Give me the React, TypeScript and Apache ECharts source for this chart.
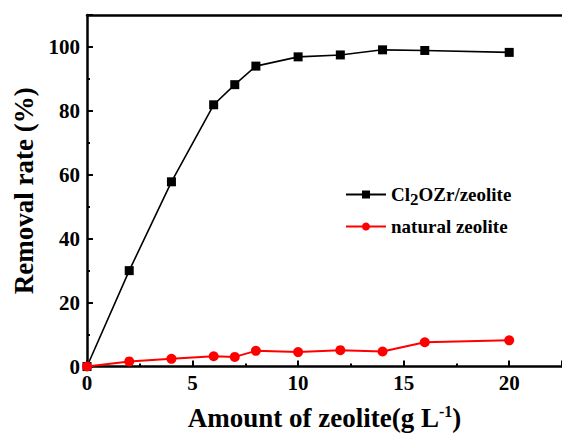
import React, { useEffect, useRef } from "react";
import * as echarts from "echarts";

// Zeolite dosage (g/L) and removal rates (%)
const dosage = [0, 2, 4, 6, 7, 8, 10, 12, 14, 16, 20];
const modifiedRate = [0, 30, 57.8, 81.9, 88.2, 94.0, 96.9, 97.5, 99.1, 98.9, 98.3];
const naturalRate = [0, 1.6, 2.4, 3.2, 3.0, 4.9, 4.5, 5.1, 4.7, 7.6, 8.2];

const seriesNames = ["Cl2OZr/zeolite", "natural zeolite"];

const FONT = "'Liberation Serif', 'Times New Roman', serif";

export default function App() {
  const ref = useRef<HTMLDivElement>(null);

  useEffect(() => {
    if (!ref.current) return;
    const chart = echarts.init(ref.current, null, { renderer: "svg" });
    const pairs = (ys: number[]) => dosage.map((x, i) => [x, ys[i]]);

    chart.setOption({
      animation: false,
      backgroundColor: "#fff",
      grid: { left: 87, top: 15, right: 0, bottom: 63 },
      legend: {
        orient: "vertical",
        left: 340,
        top: 180,
        itemWidth: 40,
        itemHeight: 10,
        itemGap: 9,
        data: seriesNames,
        formatter: (name: string) =>
          name === seriesNames[0] ? "{a|Cl}{s|2}{a|OZr/zeolite}" : "{a|" + name + "}",
        textStyle: {
          padding: [0, 0, 0, 0],
          rich: {
            a: { fontFamily: FONT, fontWeight: "bold", fontSize: 19, color: "#000" },
            s: {
              fontFamily: FONT,
              fontWeight: "bold",
              fontSize: 17,
              color: "#000",
              verticalAlign: "bottom",
              padding: [10, 0, 0, 0],
            },
          },
        },
      },
      xAxis: [
        {
          type: "value",
          min: 0,
          max: 22.5,
          interval: 5,
          name: "Amount of zeolite(g L{sup|-1})",
          nameLocation: "middle",
          nameGap: 37,
          nameTextStyle: {
            fontFamily: FONT,
            fontWeight: "bold",
            fontSize: 27,
            color: "#000",
            padding: [0, 0, 0, 0],
            rich: {
              sup: {
                fontFamily: FONT,
                fontWeight: "bold",
                fontSize: 16,
                color: "#000",
                verticalAlign: "top",
                padding: [0, 0, 12, 0],
              },
            },
          },
          axisLine: { lineStyle: { color: "#000", width: 2.5 } },
          axisTick: { inside: true, length: 6, lineStyle: { color: "#000", width: 2 } },
          minorTick: { show: true, splitNumber: 2, length: 3, lineStyle: { color: "#000", width: 2 } },
          axisLabel: {
            fontFamily: FONT,
            fontWeight: "bold",
            fontSize: 21,
            color: "#000",
            margin: 6,
            showMaxLabel: false,
          },
          splitLine: { show: false },
        },
        {
          type: "value",
          position: "top",
          min: 0,
          max: 22.5,
          axisLine: { show: true, lineStyle: { color: "#000", width: 2.5 } },
          axisTick: { show: false },
          axisLabel: { show: false },
          splitLine: { show: false },
        },
      ],
      yAxis: {
        type: "value",
        min: 0,
        max: 110,
        interval: 20,
        name: "Removal rate (%)",
        nameLocation: "middle",
        nameGap: 47,
        nameTextStyle: {
          fontFamily: FONT,
          fontWeight: "bold",
          fontSize: 27,
          color: "#000",
        },
        axisLine: { show: true, lineStyle: { color: "#000", width: 2.5 } },
        axisTick: { inside: true, length: 6, lineStyle: { color: "#000", width: 2 } },
        minorTick: { show: true, splitNumber: 2, length: 3, lineStyle: { color: "#000", width: 2 } },
        axisLabel: {
          fontFamily: FONT,
          fontWeight: "bold",
          fontSize: 21,
          color: "#000",
          margin: 7,
          showMaxLabel: false,
        },
        splitLine: { show: false },
      },
      series: [
        {
          name: seriesNames[0],
          type: "line",
          data: pairs(modifiedRate),
          symbol: "rect",
          symbolSize: 9,
          itemStyle: { color: "#000" },
          lineStyle: { color: "#000", width: 1.6 },
        },
        {
          name: seriesNames[1],
          type: "line",
          data: pairs(naturalRate),
          symbol: "circle",
          symbolSize: 10,
          itemStyle: { color: "#ff0000" },
          lineStyle: { color: "#ff0000", width: 2 },
        },
      ],
    });

    return () => chart.dispose();
  }, []);

  return <div ref={ref} style={{ width: 562, height: 436, position: "absolute", left: 0, top: 0 }} />;
}
